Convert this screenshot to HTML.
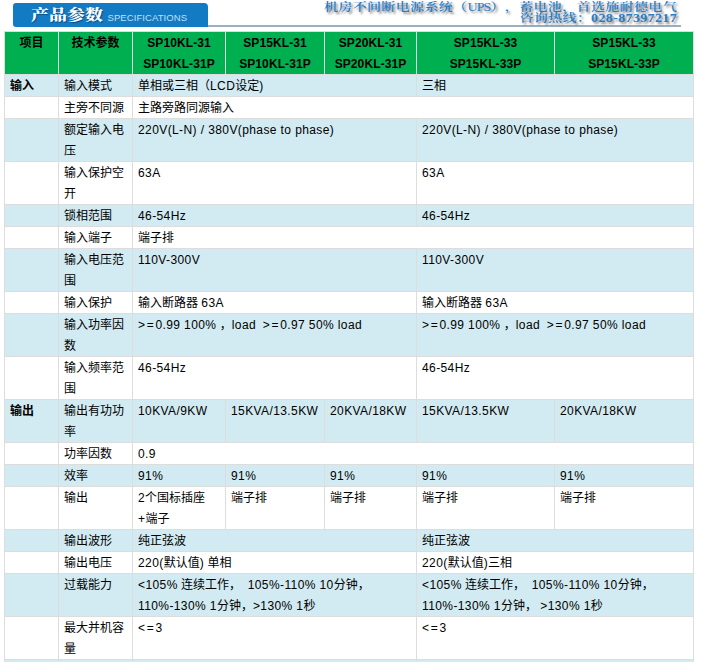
<!DOCTYPE html>
<html lang="zh-CN">
<head>
<meta charset="utf-8">
<title>产品参数</title>
<style>
html,body{margin:0;padding:0;background:#fff;}
body{width:702px;height:662px;overflow:hidden;position:relative;
  font-family:"Liberation Sans","Noto Sans CJK SC",sans-serif;font-size:12px;color:#000;text-spacing-trim:space-all;}
#tab{position:absolute;left:13px;top:3px;width:195px;height:24px;background:#127bc4;
  border-radius:3px 4px 0 3px;}
#tab .cn{position:absolute;left:18px;top:.2px;height:25px;line-height:25px;color:#fff;
  transform:scaleY(.84);transform-origin:50% 50%;
  font-family:"Liberation Serif","Noto Serif CJK SC",serif;font-weight:900;font-size:18px;
  text-shadow:1px 1px 1px rgba(0,40,90,.55);white-space:nowrap;}
#tab .en{position:absolute;left:94.5px;top:10px;line-height:10px;color:#bfe0f6;
  font-family:"Liberation Sans",sans-serif;font-size:9.5px;letter-spacing:0.08px;white-space:nowrap;}
#rule{position:absolute;left:208px;top:25px;width:473px;height:2px;background:rgba(88,122,148,.6);}
#slogan{position:absolute;right:25px;top:1.8px;text-align:right;color:#267bc6;white-space:nowrap;
  transform:scaleY(.84);transform-origin:100% 0;
  font-family:"Liberation Serif","Noto Serif CJK SC",serif;font-weight:600;font-size:14px;line-height:13.1px;letter-spacing:.35px;
  text-shadow:2px 2.5px 2.5px rgba(70,70,70,.7);}
#slogan{text-spacing-trim:space-all;}
#slogan i{font-style:normal;font-size:14px;letter-spacing:-.9px;font-weight:500;}
table{position:absolute;left:4px;top:31px;border-collapse:collapse;table-layout:fixed;width:690px;}
td,th{border:1px solid #ddd;padding:0 0 0 5px;line-height:21px;height:21px;vertical-align:top;
  text-align:left;font-weight:normal;white-space:nowrap;overflow:hidden;}
th{background:#00b050;font-weight:bold;text-align:center;padding:0;}
tr.b td{background:#d2eaf1;}
td.k{font-weight:bold;}
td.w{white-space:normal;}
.c{position:relative;top:1px;}
.l{letter-spacing:.4px;}
th .l{letter-spacing:.1px;}
.o{letter-spacing:1.7px;}
</style>
</head>
<body>
<div id="tab"><span class="cn">产品参数</span><span class="en">SPECIFICATIONS</span></div>
<div id="rule"></div>
<div id="slogan">机房不间断电源系统（<i>UPS</i>），蓄电池，首选施耐德电气<br>咨询热线：028-87397217</div>
<table>
<colgroup><col style="width:54px"><col style="width:74px"><col style="width:93px"><col style="width:99px"><col style="width:92px"><col style="width:138px"><col style="width:139px"></colgroup>
<tr><th><div class="c">项目</div></th><th><div class="c">技术参数</div></th><th><div class="c"><span class="l">SP10KL-31</span><br><span class="l">SP10KL-31P</span></div></th><th><div class="c"><span class="l">SP15KL-31</span><br><span class="l">SP10KL-31P</span></div></th><th><div class="c"><span class="l">SP20KL-31</span><br><span class="l">SP20KL-31P</span></div></th><th><div class="c"><span class="l">SP15KL-33</span><br><span class="l">SP15KL-33P</span></div></th><th><div class="c"><span class="l">SP15KL-33</span><br><span class="l">SP15KL-33P</span></div></th></tr>
<tr class="b"><td class="k"><div class="c">输入</div></td><td class="w"><div class="c">输入模式</div></td><td colspan="3"><div class="c">单相或三相（<span class="l">LCD</span>设定<span class="l">)</span></div></td><td colspan="2"><div class="c">三相</div></td></tr>
<tr><td class="k"></td><td class="w"><div class="c">主旁不同源</div></td><td colspan="5"><div class="c">主路旁路同源输入</div></td></tr>
<tr class="b"><td class="k"></td><td class="w"><div class="c">额定输入电压</div></td><td colspan="3"><div class="c"><span class="l">220V(L-N) / 380V(phase to phase)</span></div></td><td colspan="2"><div class="c"><span class="l">220V(L-N) / 380V(phase to phase)</span></div></td></tr>
<tr><td class="k"></td><td class="w"><div class="c">输入保护空开</div></td><td colspan="3"><div class="c"><span class="l">63A</span></div></td><td colspan="2"><div class="c"><span class="l">63A</span></div></td></tr>
<tr class="b"><td class="k"></td><td class="w"><div class="c">锁相范围</div></td><td colspan="3"><div class="c"><span class="l">46-54Hz</span></div></td><td colspan="2"><div class="c"><span class="l">46-54Hz</span></div></td></tr>
<tr><td class="k"></td><td class="w"><div class="c">输入端子</div></td><td colspan="5"><div class="c">端子排</div></td></tr>
<tr class="b"><td class="k"></td><td class="w"><div class="c">输入电压范围</div></td><td colspan="3"><div class="c"><span class="l">110V-300V</span></div></td><td colspan="2"><div class="c"><span class="l">110V-300V</span></div></td></tr>
<tr><td class="k"></td><td class="w"><div class="c">输入保护</div></td><td colspan="3"><div class="c">输入断路器 <span class="l">63A</span></div></td><td colspan="2"><div class="c">输入断路器 <span class="l">63A</span></div></td></tr>
<tr class="b"><td class="k"></td><td class="w"><div class="c">输入功率因数</div></td><td colspan="3"><div class="c"><span class="l"><span class="o">&gt;=</span>0.99 100%</span> ，<span class="l">load</span>&nbsp; <span class="l"><span class="o">&gt;=</span>0.97 50% load</span></div></td><td colspan="2"><div class="c"><span class="l"><span class="o">&gt;=</span>0.99 100%</span> ，<span class="l">load</span>&nbsp; <span class="l"><span class="o">&gt;=</span>0.97 50% load</span></div></td></tr>
<tr><td class="k"></td><td class="w"><div class="c">输入频率范围</div></td><td colspan="3"><div class="c"><span class="l">46-54Hz</span></div></td><td colspan="2"><div class="c"><span class="l">46-54Hz</span></div></td></tr>
<tr class="b"><td class="k"><div class="c">输出</div></td><td class="w"><div class="c">输出有功功率</div></td><td><div class="c"><span class="l">10KVA/9KW</span></div></td><td><div class="c"><span class="l">15KVA/13.5KW</span></div></td><td><div class="c"><span class="l">20KVA/18KW</span></div></td><td><div class="c"><span class="l">15KVA/13.5KW</span></div></td><td><div class="c"><span class="l">20KVA/18KW</span></div></td></tr>
<tr><td class="k"></td><td class="w"><div class="c">功率因数</div></td><td colspan="5"><div class="c"><span class="l">0.9</span></div></td></tr>
<tr class="b"><td class="k"></td><td class="w"><div class="c">效率</div></td><td><div class="c"><span class="l">91%</span></div></td><td><div class="c"><span class="l">91%</span></div></td><td><div class="c"><span class="l">91%</span></div></td><td><div class="c"><span class="l">91%</span></div></td><td><div class="c"><span class="l">91%</span></div></td></tr>
<tr><td class="k"></td><td class="w"><div class="c">输出</div></td><td><div class="c"><span class="l">2</span>个国标插座<br><span class="l">+</span>端子</div></td><td><div class="c">端子排</div></td><td><div class="c">端子排</div></td><td><div class="c">端子排</div></td><td><div class="c">端子排</div></td></tr>
<tr class="b"><td class="k"></td><td class="w"><div class="c">输出波形</div></td><td colspan="3"><div class="c">纯正弦波</div></td><td colspan="2"><div class="c">纯正弦波</div></td></tr>
<tr><td class="k"></td><td class="w"><div class="c">输出电压</div></td><td colspan="3"><div class="c"><span class="l">220(</span>默认值<span class="l">)</span> 单相</div></td><td colspan="2"><div class="c"><span class="l">220(</span>默认值<span class="l">)</span>三相</div></td></tr>
<tr class="b"><td class="k"></td><td class="w"><div class="c">过载能力</div></td><td colspan="3"><div class="c"><span class="l">&lt;105%</span> 连续工作，&nbsp; <span class="l">105%-110% 10</span>分钟，<br><span class="l">110%-130% 1</span>分钟，<span class="l">&gt;130% 1</span>秒</div></td><td colspan="2"><div class="c"><span class="l">&lt;105%</span> 连续工作，&nbsp; <span class="l">105%-110% 10</span>分钟，<br><span class="l">110%-130% 1</span>分钟， <span class="l">&gt;130% 1</span>秒</div></td></tr>
<tr><td class="k"></td><td class="w"><div class="c">最大并机容量</div></td><td colspan="3"><div class="c"><span class="l"><span class="o">&lt;=</span>3</span></div></td><td colspan="2"><div class="c"><span class="l"><span class="o">&lt;=</span>3</span></div></td></tr>
<tr class="b"><td class="k"></td><td class="w"></td><td colspan="3"></td><td colspan="2"></td></tr>
</table>
</body>
</html>
